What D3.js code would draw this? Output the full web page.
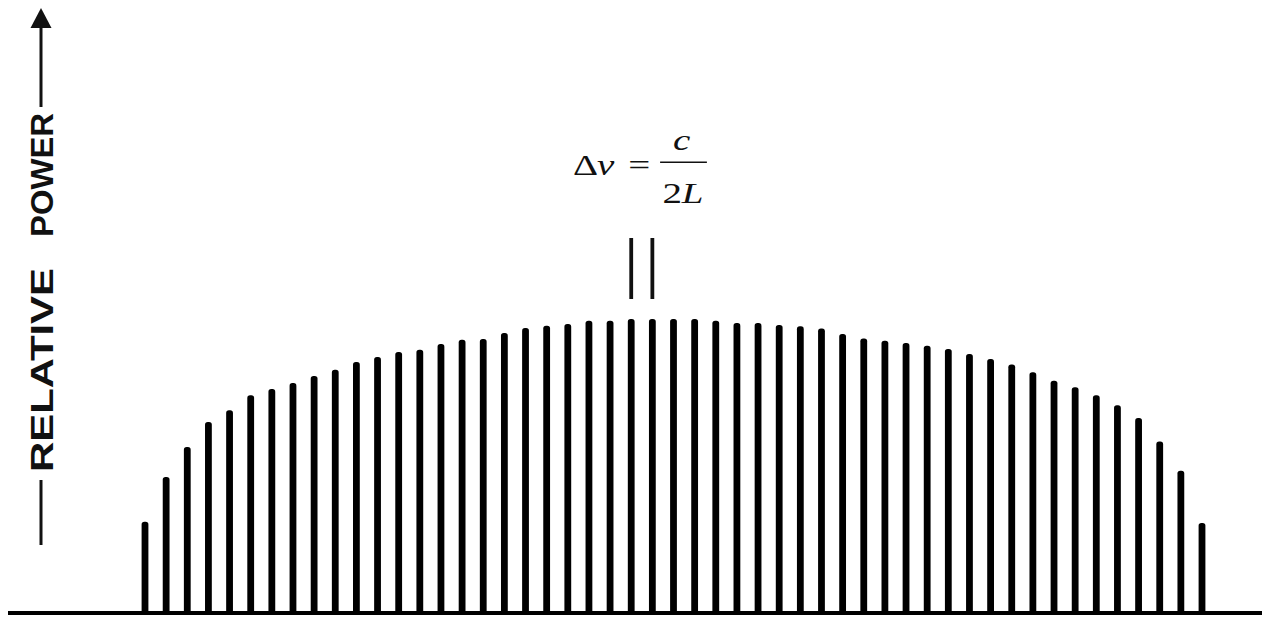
<!DOCTYPE html>
<html>
<head>
<meta charset="utf-8">
<script src="https://cdn.jsdelivr.net/npm/d3@7"></script>
<style>
  html, body { margin: 0; padding: 0; background: #fff; }
  svg { display: block; }
</style>
</head>
<body>
<svg id="chart" width="1269" height="621"></svg>
<script>
// Longitudinal modes of the laser: mode number and relative power of each line
const modeNumbers = d3.range(51);
const relativePower = [
  31.0, 46.3, 56.5, 65.0, 69.0, 74.1, 76.2, 78.2, 80.6, 82.7,
  85.4, 87.1, 88.8, 89.5, 91.5, 92.9, 93.2, 95.2, 96.9, 97.7,
  98.3, 99.4, 99.4, 100.0, 100.0, 100.0, 100.0, 99.4, 98.6, 98.6,
  98.0, 97.5, 96.8, 94.9, 93.4, 92.6, 91.8, 90.9, 89.8, 88.1,
  86.4, 84.5, 81.9, 79.0, 76.8, 74.1, 70.7, 66.3, 58.3, 48.4,
  30.6
];
// The two neighbouring modes used to mark the spacing
const spacingModes = [23, 24];
const axisWords = ["RELATIVE", "POWER"];

const svg = d3.select("#chart");

const x = d3.scaleLinear().domain([0, modeNumbers.length - 1]).range([145, 1202]);
const y = d3.scaleLinear().domain([0, 100]).range([613, 319]);

const barW = 6.8;

// baseline (frequency axis)
svg.append("line")
  .attr("x1", 8).attr("x2", 1262)
  .attr("y1", y(0)).attr("y2", y(0))
  .attr("stroke", "#000").attr("stroke-width", 3.8);

// mode lines
svg.append("g").selectAll("rect")
  .data(modeNumbers)
  .join("rect")
  .attr("x", d => x(d) - barW / 2)
  .attr("y", d => y(relativePower[d]))
  .attr("width", barW)
  .attr("height", d => y(0) - y(relativePower[d]) + 1)
  .attr("rx", 2.8)
  .attr("fill", "#000");

// spacing marker above the two central modes
svg.append("g").selectAll("line")
  .data(spacingModes)
  .join("line")
  .attr("x1", d => x(d)).attr("x2", d => x(d))
  .attr("y1", 238).attr("y2", 299)
  .attr("stroke", "#111").attr("stroke-width", 3.8);

// formula Δν = c / 2L
const f = svg.append("g")
  .attr("transform", "translate(573,175) scale(1.3,1)")
  .attr("font-family", "'Liberation Serif', 'Times New Roman', serif")
  .attr("font-size", 30)
  .attr("fill", "#111");

const lhs = f.append("text").attr("x", 0).attr("y", 0);
lhs.append("tspan").text("Δ");
lhs.append("tspan").attr("x", 18.5).attr("font-style", "italic").text("ν");
f.append("text").attr("x", 42.5).attr("y", -0.5).text("=");
f.append("line")
  .attr("x1", 67).attr("x2", 103)
  .attr("y1", -12.7).attr("y2", -12.7)
  .attr("stroke", "#111").attr("stroke-width", 1.6);
f.append("text").attr("x", 83.5).attr("y", -25)
  .attr("text-anchor", "middle").attr("font-style", "italic").text("c");
const den = f.append("text").attr("x", 84.6).attr("y", 28).attr("text-anchor", "middle");
den.append("tspan").text("2");
den.append("tspan").attr("font-style", "italic").text("L");

// vertical axis label with arrow
const lab = svg.append("g")
  .attr("transform", "translate(53,0) rotate(-90)")
  .attr("font-family", "'Liberation Sans', Arial, sans-serif")
  .attr("font-weight", "bold")
  .attr("font-size", 31)
  .attr("fill", "#111");
const wordSpans = [[472, 204], [237, 124]];
axisWords.forEach((w, i) => {
  lab.append("text")
    .attr("x", -wordSpans[i][0])
    .attr("y", 0)
    .attr("textLength", wordSpans[i][1])
    .attr("lengthAdjust", "spacingAndGlyphs")
    .text(w);
});

svg.append("line")
  .attr("x1", 41).attr("x2", 41).attr("y1", 480).attr("y2", 545)
  .attr("stroke", "#111").attr("stroke-width", 3);
svg.append("line")
  .attr("x1", 41).attr("x2", 41).attr("y1", 107).attr("y2", 24)
  .attr("stroke", "#111").attr("stroke-width", 3);
svg.append("path")
  .attr("d", "M41,8 L51.5,28 L30.5,28 Z")
  .attr("fill", "#111");
</script>
</body>
</html>
